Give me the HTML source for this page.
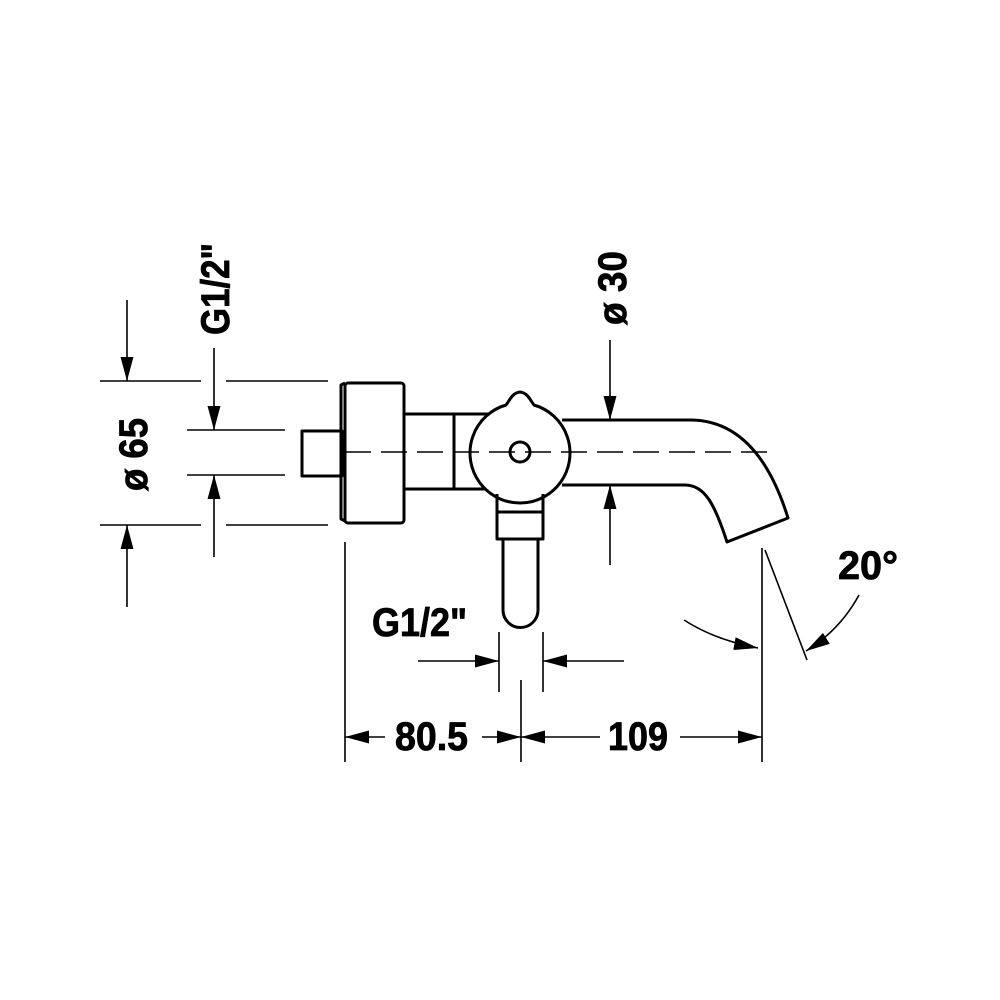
<!DOCTYPE html>
<html><head><meta charset="utf-8"><style>html,body{margin:0;padding:0;background:#fff}svg{display:block}</style></head>
<body>
<svg width="1000" height="1000" viewBox="0 0 1000 1000" xmlns="http://www.w3.org/2000/svg">
<defs>
<marker id="a" viewBox="0 0 10 10" refX="10" refY="5" markerWidth="24" markerHeight="24" markerUnits="userSpaceOnUse" orient="auto"><path d="M0,2.3 L10,5 L0,7.7 z" fill="#000"/></marker>
</defs>
<g fill="none" stroke="#000" stroke-width="3" stroke-linejoin="round">
<rect x="302" y="431" width="40" height="45"/>
<path d="M345,383 L341,385 L341,519 L345,521"/>
<rect x="345" y="383" width="59" height="140" rx="3"/>
<path d="M404,414 L490,414 M404,489 L490,489 M454,414 L454,489"/>
<path d="M506,405 A50,50 0 1 0 534,405 C530,400 528,393 520,392 C512,393 510,400 506,405 Z" fill="#fff"/>
<circle cx="520" cy="452" r="10"/>
<path d="M497,494 L497,539 L543,539 L543,494 M497,512 L543,512"/>
<path d="M503,539 L503,610 A17.5,17.5 0 0 0 538,610 L538,539"/>
<path d="M562,420 L690,420 C740,420 770,460 788,518 L727,542 C715,505 705,485 685,485 L562,485"/>
</g>
<path d="M345,452 L775,452" stroke="#000" stroke-width="1.5" stroke-dasharray="26,10" fill="none"/>
<g fill="none" stroke="#000" stroke-width="1.6">
<path d="M100,381 L201,381 M226,381 L328,381 M100,525 L201,525 M226,525 L328,525"/>
<path d="M187,430 L285,430 M187,475 L285,475"/>
<path d="M127,300 L127,381" marker-end="url(#a)"/>
<path d="M127,607 L127,525" marker-end="url(#a)"/>
<path d="M214,348 L214,430" marker-end="url(#a)"/>
<path d="M214,557 L214,475" marker-end="url(#a)"/>
<path d="M610,340 L610,420" marker-end="url(#a)"/>
<path d="M610,565 L610,485" marker-end="url(#a)"/>
<path d="M345,542 L345,762 M521,680 L521,762 M762,548 L762,762"/>
<path d="M385,737 L345,737" marker-end="url(#a)"/>
<path d="M482,737 L521,737" marker-end="url(#a)"/>
<path d="M600,737 L521,737" marker-end="url(#a)"/>
<path d="M680,737 L762,737" marker-end="url(#a)"/>
<path d="M499,632 L499,692 M543,632 L543,692"/>
<path d="M418,661 L499,661" marker-end="url(#a)"/>
<path d="M624,661 L543,661" marker-end="url(#a)"/>
<path d="M765,550 L807,660"/>
<path d="M684,620 Q715,640 758,648" marker-end="url(#a)"/>
<path d="M859,595 Q840,630 806,651" marker-end="url(#a)"/>
</g>
<g font-family="'Liberation Sans Narrow','Liberation Sans',sans-serif" font-weight="bold" font-size="40" fill="#000" stroke="#000" stroke-width="0.8">
<text x="395" y="750" textLength="73" lengthAdjust="spacingAndGlyphs">80.5</text>
<text x="608" y="750" textLength="60" lengthAdjust="spacingAndGlyphs">109</text>
<text x="372" y="636" textLength="95" lengthAdjust="spacingAndGlyphs">G1/2"</text>
<text x="838" y="579" textLength="60" lengthAdjust="spacingAndGlyphs">20°</text>
<text transform="translate(147,491) rotate(-90)" textLength="73" lengthAdjust="spacingAndGlyphs">ø 65</text>
<text transform="translate(229,335) rotate(-90)" textLength="92" lengthAdjust="spacingAndGlyphs">G1/2"</text>
<text transform="translate(626,325) rotate(-90)" textLength="74" lengthAdjust="spacingAndGlyphs">ø 30</text>
</g>
</svg>
</body></html>
